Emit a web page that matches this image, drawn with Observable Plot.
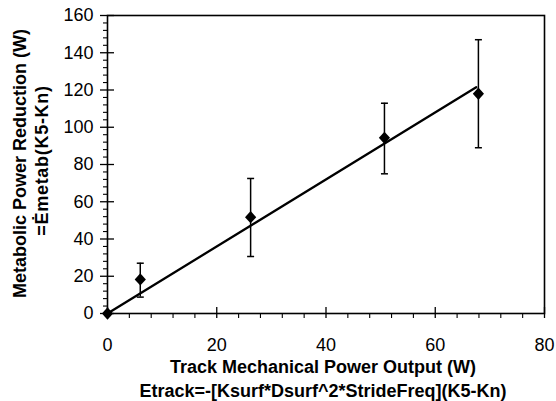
<!DOCTYPE html>
<html>
<head>
<meta charset="utf-8">
<script src="https://cdn.jsdelivr.net/npm/d3@7"></script>
<script src="https://cdn.jsdelivr.net/npm/@observablehq/plot@0.6"></script>
<style>
  html, body { margin: 0; padding: 0; background: #fff; }
  #chart { width: 556px; height: 401px; }
</style>
</head>
<body>
<div id="chart"></div>
<script>
// Data
const powerOut       = [0, 6.0, 26.2, 50.7, 67.9];      // Track mechanical power output (W)
const metabReduction = [0, 18.3, 51.7, 94.3, 118.0];    // Metabolic power reduction (W)
const errLow         = [null, 8.8, 30.6, 75.0, 89.0];
const errHigh        = [null, 27.0, 72.5, 112.9, 147.0];
const fitX = [0, 67.5];
const fitY = [0, 121.5];

const xMajor = [0, 20, 40, 60, 80];
const xMinor = [4, 8, 12, 16, 24, 28, 32, 36, 44, 48, 52, 56, 64, 68, 72, 76];
const yMajor = [0, 20, 40, 60, 80, 100, 120, 140, 160];
const yMinor = [4, 8, 12, 16, 24, 28, 32, 36, 44, 48, 52, 56, 64, 68, 72, 76,
                84, 88, 92, 96, 104, 108, 112, 116, 124, 128, 132, 136, 144, 148, 152, 156];

const xTitle1 = "Track Mechanical Power Output (W)";
const xTitle2 = "Etrack=-[Ksurf*Dsurf^2*StrideFreq](K5-Kn)";
const yTitle1 = "Metabolic Power Reduction (W)";
const yTitle2 = "=\u0116metab(K5-Kn)";

const points = powerOut.map((x, i) => ({x, y: metabReduction[i], lo: errLow[i], hi: errHigh[i]}));
const bars = points.filter(d => d.lo != null);
const fit = fitX.map((x, i) => ({x, y: fitY[i]}));

const capSymbol = {
  draw(ctx, size) {
    const w = Math.sqrt(size / Math.PI);
    ctx.moveTo(-w, 0);
    ctx.lineTo(w, 0);
  }
};
const diamondSymbol = {
  draw(ctx, size) {
    const r = Math.sqrt(size / Math.PI);
    ctx.moveTo(0, -r * 1.1);
    ctx.lineTo(r, 0);
    ctx.lineTo(0, r * 1.1);
    ctx.lineTo(-r, 0);
    ctx.closePath();
  }
};

const font = "'Liberation Sans', Arial, Helvetica, sans-serif";
const empty = () => "";

const chart = Plot.plot({
  width: 556,
  height: 401,
  marginLeft: 107,
  marginRight: 12,
  marginTop: 15,
  marginBottom: 88,
  style: {fontFamily: font, fontSize: "18px", color: "black", background: "white", overflow: "visible"},
  x: {domain: [0, 80]},
  y: {domain: [0, 160]},
  marks: [
    // x axis
    Plot.axisX({ticks: xMajor, tickSize: 0, tickPadding: 25, fontSize: 18, label: null}),
    Plot.axisX({ticks: xMajor, tickSize: 5, tickFormat: empty, label: null, strokeWidth: 1.3}),
    Plot.axisX({ticks: xMinor, tickSize: 5, tickFormat: empty, label: null, strokeWidth: 1.1}),
    Plot.tickX(xMajor, {x: d => d, insetTop: 292, stroke: "black", strokeWidth: 1.3}),
    // y axis
    Plot.axisY({ticks: yMajor, tickSize: 0, tickPadding: 14, fontSize: 18, label: null}),
    Plot.axisY({ticks: yMajor, tickSize: 7, tickFormat: empty, label: null, strokeWidth: 1.3}),
    Plot.axisY({ticks: yMinor, tickSize: 4, tickFormat: empty, label: null, strokeWidth: 1.1}),
    Plot.tickY(yMajor, {y: d => d, insetRight: 430, stroke: "black", strokeWidth: 1.3}),
    Plot.frame({stroke: "black", strokeWidth: 1.6}),
    // fit line
    Plot.line(fit, {x: "x", y: "y", stroke: "black", strokeWidth: 2.3}),
    // error bars
    Plot.ruleX(bars, {x: "x", y1: "lo", y2: "hi", stroke: "black", strokeWidth: 1.5}),
    Plot.dot(bars, {x: "x", y: "hi", symbol: capSymbol, r: 3.5, stroke: "black", strokeWidth: 1.5, fill: "none"}),
    Plot.dot(bars, {x: "x", y: "lo", symbol: capSymbol, r: 3.5, stroke: "black", strokeWidth: 1.5, fill: "none"}),
    // markers
    Plot.dot(points, {x: "x", y: "y", symbol: diamondSymbol, r: 5.6, fill: "black", stroke: "none"}),
    // titles
    Plot.text([xTitle1], {text: d => d, frameAnchor: "bottom", textAnchor: "middle", lineAnchor: "middle", dy: 54, dx: -3, fontSize: 18, fontWeight: "bold", fill: "black"}),
    Plot.text([xTitle2], {text: d => d, frameAnchor: "bottom", textAnchor: "middle", lineAnchor: "middle", dy: 78, dx: -3, fontSize: 18, fontWeight: "bold", fill: "black"}),
    Plot.text([yTitle1], {text: d => d, frameAnchor: "left", textAnchor: "middle", lineAnchor: "middle", dx: -87, dy: -1, rotate: -90, fontSize: 18, fontWeight: "bold", fill: "black"}),
    Plot.text([yTitle2], {text: d => d, frameAnchor: "left", textAnchor: "middle", lineAnchor: "middle", dx: -65, dy: -4, rotate: -90, fontSize: 18, fontWeight: "bold", fill: "black"})
  ]
});
document.getElementById("chart").append(chart);
d3.select(chart).selectAll("text").filter(function() { return this.textContent === yTitle2; })
  .style("letter-spacing", "0.7px");
</script>
</body>
</html>
